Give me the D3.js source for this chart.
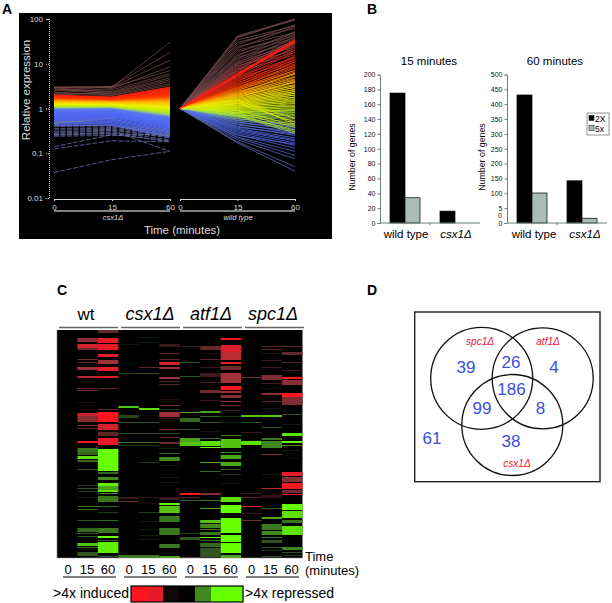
<!DOCTYPE html>
<html>
<head>
<meta charset="utf-8">
<script src="https://cdn.jsdelivr.net/npm/d3@7"></script>
<style>
  html, body { margin: 0; padding: 0; background: #fff; }
  svg { display: block; font-family: "Liberation Sans", Arial, sans-serif; }
</style>
</head>
<body>
<script>
"use strict";

// panel A: relative expression at 0, 15, 60 minutes
const lineTimes = ["0", "15", "60"];
const csxSparse = [[3,3,30],[2.95,3.1,18],[2.6,3,12],[2.2,2.8,8.5],[3,3,7],[2.5,2.6,6],[2,2.4,5.5],[2.9,2.3,4.8],
  [2.1,2.2,4.4],[2.8,2.1,4],[2.3,2,3.6],[2.05,1.95,3.3]];
const csxMixed = [[.73,.8,.9],[.7,.78,1],[.67,.76,.88],[.64,.74,1.2],[.61,.72,.95],[.58,.7,1.5],[.55,.7,.9],
  [.52,.68,1.1],[.49,.66,1.6],[.47,.64,.92],[.45,.6,1.05]];
const csxMain = [[1.95,1.78,3],[1.9,1.76,2.85],[1.92,1.74,2.7],[1.85,1.72,2.6],[1.88,1.7,2.5],[1.8,1.68,2.4],
  [1.82,1.66,2.3],[1.78,1.64,2.2],[1.75,1.62,2.15],[1.72,1.6,2.05],[1.7,1.58,2],[1.68,1.56,1.95],[1.65,1.54,1.88],
  [1.63,1.52,1.82],[1.6,1.5,1.76],[1.58,1.48,1.7],[1.55,1.46,1.65],[1.53,1.44,1.6],[1.5,1.42,1.55],[1.48,1.4,1.5],
  [1.45,1.38,1.45],[1.43,1.36,1.4],[1.4,1.34,1.35],[1.38,1.32,1.3],[1.35,1.3,1.26],[1.33,1.28,1.22],[1.3,1.26,1.18],
  [1.28,1.24,1.14],[1.26,1.22,1.1],[1.24,1.2,1.06],[1.22,1.18,1.03],[1.2,1.16,1],[1.18,1.14,.97],[1.16,1.12,.93],
  [1.14,1.1,.9],[1.12,1.08,.87],[1.1,1.07,.84],[1.08,1.06,.81],[1.06,1.05,.78],[1.04,1.04,.75],[1.02,1.03,.72],
  [1,1.02,.7],[.98,1,.67],[.96,.98,.65],[.94,.96,.62],[.92,.94,.6],[.9,.91,.58],[.88,.89,.56],[.86,.87,.54],
  [.84,.85,.52],[.82,.83,.5],[.8,.81,.48],[.78,.79,.46],[.76,.77,.44],[.74,.75,.43],[.72,.73,.41],[.7,.71,.39],
  [.68,.69,.37],[.66,.66,.36],[.64,.62,.34],[.6,.58,.32],[.57,.55,.3],[.54,.52,.28],[.5,.48,.26],[.46,.45,.24],[.42,.42,.23]];
const csxLow = [[.45,.4,.34],[.4,.38,.3],[.36,.36,.26],[.33,.34,.24],[.3,.33,.22],[.28,.32,.11],[.27,.27,.25],[.25,.3,.2],
  [.26,.28,.18],[.24,.25,.27],[.14,.26,.19],[.125,.19,.18],[.037,.072,.11]];
const wtLines = [[42,110],[40,95],[38,125],[34,70],[30,62],[27,75],[24,50],[22,68],[20,42],[18,48],[16,38],[15,52],[14,30],
  [13,45],[12,36],[11,28],[10.5,40],[10,24],[9.5,33],[9,20],[8.5,30],[8,26],[7.6,18],[7.2,35],[7,22],[6.6,16],[6.2,28],
  [5.3,24],[5.2,14],[5,20],[4.8,12],[4.6,18],[4.4,13.5],[4.2,11],[4,15],[3.8,10],
  [3.6,12.5],[3.4,9],[3.3,11],[3.1,8.5],[3,7],[2.9,9.5],[2.8,6.5],[2.7,8],[2.6,6],[2.5,7.2],[2.4,5.2],[2.35,4.6],[2.3,5.8],
  [2.2,4.2],[2.15,6.2],[2.1,3.8],[2.05,5],[2,3.4],[1.95,4.4],[1.9,3.2],[1.85,3.8],[1.8,2.9],[1.75,4],[1.7,2.6],[1.65,3.3],
  [1.6,2.4],[1.55,3],[1.5,2.2],[1.45,2.7],[1.42,2],[1.38,2.4],[1.34,1.8],[1.3,2.2],[1.27,1.65],[1.24,2],[1.2,1.5],[1.17,1.8],
  [1.14,1.35],[1.1,1.6],[1.08,1.2],[1.05,1.45],[1.02,1.1],[1,1.3],[.97,.98],[.95,1.15],[.92,.9],[.9,1.05],[.87,.82],[.84,.95],
  [.82,.74],[.8,.88],[.77,.68],[.75,.8],[.72,.6],[.7,.72],[.67,.55],[.65,.64],[.63,.5],[.6,.42],[.58,.46],[.55,.38],[.53,.42],
  [.5,.33],[.48,.36],[.45,.28],[.43,.31],[.4,.25],[.38,.27],[.36,.22],[.34,.2],[.32,.19],[.3,.17],[.28,.15],[.26,.13],[.25,.16],
  [.23,.11],[.22,.09],[.2,.075],[.18,.05],[.17,.04]];
const wtDipping = [[1.5,.6],[1.3,.5],[1.6,.44],[.9,.42],[.8,.38],[.7,.33],[.75,.3],[.68,.28]];
const wtStreak = [[6,34],[5.8,33],[5.6,32],[5.5,30]];
const logTicks = [0.01, 0.1, 1, 10, 100];

// panel B
const barCategories = ["wild type", "csx1\u0394"];
const barSeries = ["2X", "5x"];
const genes15 = [[175, 34], [16, 0]];
const genes60 = [[431, 101], [142, 16]];
const ticks15 = d3.range(0, 201, 20);
const ticks60 = d3.range(0, 501, 50);

// panel C: runs per column as [first row, last row, value], + induced, - repressed
const heatColumns = [
  [],
  [[8,12,.5],[14,18,.8],[18,20,.4],[29,30,.4],[32,33,.3],[37,40,.6],[46,48,.7],[58,59,.3],[60,61,.4],[72,73,.1],[83,86,.75],[86,92,.5],
   [95,96,.4],[98,99,.3],[111,113,1],[118,122,-.5],[122,125,-.4],[126,129,-.9],[130,132,-.4],[139,140,-.3],[155,156,-.2],[158,159,-.3],
   [161,162,-.2],[167,168,-.1],[176,177,-.5],[179,180,-.4],[190,191,-.3],[198,202,-.4],[203,204,-.3],[206,207,-.3],[213,216,-.8],
   [217,218,-.4],[222,226,-.3]],
  [[0,3,.35],[8,13,.9],[14,20,.9],[24,27,.9],[30,34,.6],[37,41,.9],[46,48,.9],[58,59,.3],[79,80,.3],[82,92,1],[94,100,.8],[102,106,.3],
   [108,111,.9],[111,115,.9],[119,141,-1],[142,144,-.4],[147,150,-.6],[153,156,-.95],[156,160,-.7],[160,162,-.9],[163,164,-.6],[166,172,-.5],
   [176,177,-.4],[182,183,-.2],[190,191,-.4],[198,203,-.5],[206,208,-1],[210,211,-.3],[212,223,-.95],[226,227,-.3]],
  [[14,15,-.1],[33,34,-.05],[43,44,-.25],[76,78,-.8],[85,88,-.25],[92,93,-.3],[103,104,-.3],[112,113,-.4],[115,116,-.2],[167,169,.2],
   [171,172,.35],[225,228,-.5]],
  [[7,8,-.1],[12,13,-.1],[37,38,.3],[43,44,-.3],[78,80,-.9],[85,86,-.05],[92,93,-.3],[103,104,-.3],[112,113,-.4],[115,116,-.2],[132,133,-.2],
   [167,168,.15],[173,174,.1],[182,183,-.2],[191,192,-.1],[199,200,-.1],[205,206,-.1],[209,210,-.1],[225,228,-.5]],
  [[14,17,.2],[23,24,.3],[29,30,.3],[32,35,.8],[37,39,.6],[47,49,.6],[51,52,.3],[54,55,.3],[69,70,.1],[75,76,.4],[79,80,-.2],[82,87,.6],
   [88,89,.2],[99,100,.5],[103,104,-.3],[107,108,.3],[112,114,.4],[118,119,-.1],[123,124,-.4],[127,131,-.6],[135,136,-.1],[147,148,-.1],
   [152,153,-.1],[167,170,.2],[173,175,-1],[176,183,-.8],[186,192,-.5],[198,205,-.5],[214,218,-.5],[226,228,-.7]],
  [[16,17,.2],[32,33,-.3],[46,47,-.3],[82,83,-.7],[88,92,-.4],[99,100,-.3],[108,112,-.7],[112,116,-.8],[163,165,1],[167,168,.3],[170,171,-.3],
   [203,204,-.2],[207,210,-.3],[227,228,.2]],
  [[16,20,.35],[23,24,.1],[29,30,.3],[37,38,.2],[43,47,.2],[52,53,.2],[60,63,.4],[70,71,.2],[81,83,-.7],[86,87,-.4],[92,93,-.3],[101,102,.1],
   [108,109,-.4],[111,116,-.9],[117,118,-1],[132,133,-.7],[141,142,-.4],[163,165,.5],[170,171,-.5],[178,179,-.7],[190,193,-.8],[194,198,-.6],
   [199,200,-.5],[202,205,-.5],[207,208,-1],[210,211,-.5],[213,217,-.4],[218,227,-.3]],
  [[8,10,1],[15,22,.85],[22,30,.7],[32,34,.9],[36,40,.4],[43,53,.6],[56,60,1],[61,63,.6],[65,68,.5],[71,72,.6],[75,76,.4],[80,81,.2],[86,87,-.2],
   [92,93,-.1],[105,106,-.5],[109,118,-.8],[122,123,-.6],[125,129,-.7],[132,136,-.7],[139,140,-.3],[144,145,-.2],[153,154,-.1],[167,172,-.9],
   [175,183,-1],[188,203,-1],[205,212,-1],[213,223,-1],[225,228,-.7]],
  [[47,48,.4],[85,87,-.8],[92,93,-.3],[102,103,.2],[110,111,-.1],[111,115,-.9],[163,164,.2],[167,168,.3],[176,177,.9],[183,184,.2],[190,191,.4]],
  [[16,17,.3],[19,20,.3],[23,24,-.1],[30,31,.2],[37,38,.2],[45,50,.45],[53,54,.2],[58,59,.1],[63,65,.5],[71,72,.3],[78,79,-.1],[85,87,-.8],
   [97,98,-.3],[108,110,-.5],[111,118,-.6],[124,125,.5],[144,145,-.1],[158,159,.7],[165,168,.15],[178,179,-.3],[187,189,-.7],[194,200,-.5],
   [201,205,-.6],[207,208,-.5],[210,213,-.3],[217,218,-.3],[220,221,-.2],[226,227,-.3]],
  [[16,17,.3],[22,25,.35],[32,33,.25],[40,41,.2],[47,49,1],[50,55,.5],[63,67,1],[67,75,.45],[84,85,-.3],[94,95,-.1],[103,106,-.9],[111,113,-1],
   [115,116,-.6],[120,121,.1],[128,129,.05],[142,146,.9],[147,152,.5],[153,159,.95],[160,163,.4],[164,165,1],[174,180,-1],[181,188,-.9],
   [190,193,-.5],[196,205,-.9],[217,220,-.6],[222,223,-.3],[225,226,-.2]]
];
const heatRows = 228;
const heatGroups = ["wt", "csx1\u0394", "atf1\u0394", "spc1\u0394"];
const heatTimes = ["0", "15", "60"];
const keyCells = [1, .9, .05, 0, -.6, -1, -1];

// panel D
const vennSets = ["spc1\u0394", "atf1\u0394", "csx1\u0394"];
const vennCounts = [39, 26, 4, 186, 99, 8, 38, 61];

const width = 612, height = 603;
const svg = d3.select("body").append("svg").attr("width", width).attr("height", height);

// ---- panel letters
[["A", 2, 13.5], ["B", 367, 13.5], ["C", 57, 294.5], ["D", 367, 295]].forEach(function(p) {
	svg.append("text").attr("x", p[1]).attr("y", p[2]).attr("font-weight", "bold").attr("font-size", 14).text(p[0]);
});

// ---- A
function drawLines() {
	let g = svg.append("g");
	g.append("rect").attr("x", 19).attr("y", 13).attr("width", 313).attr("height", 226).attr("fill", "#000");

	let y = d3.scaleLog().domain([0.01, 100]).range([198, 19]).clamp(true);
	let xCsx = d3.scalePoint().domain(lineTimes).range([54, 170]);
	let xWt = d3.scalePoint().domain(lineTimes).range([180, 295]);

	let csxTone = d3.scaleLog().clamp(true)
		.domain([.23, .4, .62, .72, .85, 1.05, 1.4, 1.9, 3, 4.5])
		.range(["#4a5fd8", "#4f68f0", "#5a78f0", "#a0d860", "#c4f000", "#f0f000", "#ffb000", "#ff3000", "#f02010", "#7a4a48"]);
	let wtTone = d3.scaleLog().clamp(true)
		.domain([.17, .3, .5, .65, .85, 1.05, 1.5, 2.2, 3.2, 4.5, 6.5, 12])
		.range(["#6068b0", "#4f68f0", "#5f80e0", "#90d070", "#b8e820", "#d8f000", "#f4e800", "#ffa000", "#ff3800", "#e82418", "#a83c3c", "#70484a"]);

	let path = function(x) {
		return d3.line().x(function(d, i) { return x(lineTimes[i]); }).y(function(d) { return y(d); });
	};
	let addLines = function(rows, x, color, sw, dash) {
		g.append("g").attr("fill", "none").attr("stroke-width", sw).attr("stroke-dasharray", dash || null)
			.selectAll("path").data(rows).join("path")
			.attr("d", path(x))
			.attr("stroke", color);
	};
	addLines(csxSparse, xCsx, "#7c4c4a", 0.7);
	addLines(csxMixed, xCsx, function(d) { return csxTone(d[2]); }, 1.3);
	addLines(csxMain, xCsx, function(d) { return csxTone(d[2]); }, 1.5);
	addLines(csxLow, xCsx, "#6a6fa8", 0.8, "5 1.5");
	let withStart = function(d) { return [1, d[0], d[1]]; };
	addLines(wtLines.map(withStart), xWt, function(d) { return wtTone(d[1]); }, 0.8);
	addLines(wtDipping.map(withStart), xWt, function(d) { return wtTone(d[2] * 2.6); }, 0.8);
	addLines(wtStreak.map(withStart), xWt, "#ff1c10", 1);

	// axes
	let axisColor = "#d8d8d8";
	let yAxis = g.append("g").attr("transform", "translate(49,0)")
		.call(d3.axisLeft(y).tickValues(logTicks).tickFormat(d3.format("~g")).tickSize(3));
	yAxis.selectAll("path,line").attr("stroke", axisColor).attr("stroke-dasharray", "1 1");
	yAxis.selectAll("text").attr("fill", axisColor).attr("font-size", 8).attr("font-family", "Liberation Sans");

	[xCsx, xWt].forEach(function(x) {
		let a = g.append("g").attr("transform", "translate(0,199)")
			.call(d3.axisBottom(x).tickSize(2).tickPadding(3));
		a.selectAll("path,line").attr("stroke", axisColor);
		a.selectAll("text").attr("fill", axisColor).attr("font-size", 8).attr("font-family", "Liberation Sans");
		g.append("line").attr("x1", x.range()[0]).attr("x2", x.range()[1]).attr("y1", 211).attr("y2", 211)
			.attr("stroke", "#fff").attr("stroke-width", 1.2);
	});
	let label = function(t, x, yy, size, extra) {
		let s = g.append("text").attr("x", x).attr("y", yy).attr("text-anchor", "middle")
			.attr("fill", "#dcdcdc").attr("font-size", size).text(t);
		if (extra) s.attr("transform", extra);
		return s;
	};
	label("csx1\u0394", 113, 219.5, 7.5).attr("font-style", "italic");
	label("wild type", 238, 219.5, 7.5).attr("font-style", "italic");
	label("Time (minutes)", 182, 234, 11.5);
	label("Relative expression", 0, 0, 11.5, "translate(30,90) rotate(-90)");
}
drawLines();

// ---- B
function drawBars(values, maxV, ticks, x0, title, titleX, yLabelX) {
	let y = d3.scaleLinear().domain([0, maxV]).range([223, 74.5]);
	let x = d3.scaleBand().domain(barCategories).range([x0, x0 + 100]);
	let xSeries = d3.scaleBand().domain(barSeries).range([0, 30]);
	let g = svg.append("g");

	values.forEach(function(row, i) {
		let cat = barCategories[i];
		let left = x(cat) + (x.bandwidth() - 30) / 2;
		g.append("g").selectAll("rect").data(row).join("rect")
			.filter(function(d) { return d > 0; })
			.attr("x", function(d) { return left + xSeries(barSeries[row.indexOf(d)]); })
			.attr("width", xSeries.bandwidth())
			.attr("y", function(d) { return y(d); })
			.attr("height", function(d) { return y(0) - y(d); })
			.attr("fill", function(d) { return row.indexOf(d) === 0 ? "#000" : "#a9bdb4"; })
			.attr("stroke", "#000").attr("stroke-width", 0.7);
	});

	let ya = g.append("g").attr("transform", "translate(" + x0 + ",0)")
		.call(d3.axisLeft(y).tickValues(ticks).tickSize(2.5).tickPadding(2)
			.tickFormat(function(d) { return maxV === 500 && d === 50 ? "5" : d; }));
	ya.selectAll("path,line").attr("stroke", "#6b8078");
	ya.selectAll("text").attr("font-size", 7).attr("font-family", "Liberation Sans").attr("fill", "#111");
	if (maxV === 500) {
		// the 50 label is broken over two lines in the source figure
		g.append("text").attr("x", x0 - 5).attr("y", y(25) + 2).attr("text-anchor", "end")
			.attr("font-size", 7).attr("fill", "#111").text("0");
	}
	g.append("line").attr("x1", x0).attr("x2", x0 + 100).attr("y1", y(0)).attr("y2", y(0)).attr("stroke", "#6b8078");
	g.append("line").attr("x1", x(barCategories[1])).attr("x2", x(barCategories[1]))
		.attr("y1", y(0)).attr("y2", y(0) + 2.5).attr("stroke", "#6b8078");

	g.append("text").attr("x", titleX).attr("y", 65).attr("text-anchor", "middle").attr("font-size", 11.5).text(title);
	g.append("text").attr("transform", "translate(" + yLabelX + ",157) rotate(-90)").attr("text-anchor", "middle")
		.attr("font-size", 8.8).text("Number of genes");
}
drawBars(genes15, 200, ticks15, 380, "15 minutes", 429, 355);
drawBars(genes60, 500, ticks60, 507, "60 minutes", 555, 485);

[["wild type", 406, false], ["csx1\u0394", 456, true], ["wild type", 534, false], ["csx1\u0394", 585, true]].forEach(function(p) {
	svg.append("text").attr("x", p[1]).attr("y", 238).attr("text-anchor", "middle").attr("font-size", 11.5)
		.attr("font-style", p[2] ? "italic" : "normal").text(p[0]);
});

// legend
let legend = svg.append("g");
legend.append("rect").attr("x", 587).attr("y", 113).attr("width", 22).attr("height", 22)
	.attr("fill", "#fff").attr("stroke", "#666").attr("stroke-width", 0.7);
barSeries.forEach(function(s, i) {
	legend.append("rect").attr("x", 589).attr("y", 115.5 + i * 10).attr("width", 5).attr("height", 5)
		.attr("fill", i === 0 ? "#000" : "#a9bdb4").attr("stroke", "#000").attr("stroke-width", 0.5);
	legend.append("text").attr("x", 595).attr("y", 122 + i * 10).attr("font-size", 8.5).text(s);
});

// ---- C
function drawHeat() {
	let g = svg.append("g");
	let x = d3.scaleBand().domain(d3.range(12)).range([57, 302.5]);
	let y = d3.scaleLinear().domain([0, heatRows]).range([330, 558]);
	let red = d3.scaleLinear().domain([0, .3, .6, 1]).range(["#000", "#5a262a", "#a0323a", "#ff1420"]);
	let green = d3.scaleLinear().domain([0, .3, .6, 1]).range(["#000", "#2f5520", "#3f8a1c", "#66ff00"]);
	let color = function(v) { return v >= 0 ? red(v) : green(-v); };

	g.append("rect").attr("x", x.range()[0]).attr("y", y(0)).attr("width", x.range()[1] - x.range()[0])
		.attr("height", y(heatRows) - y(0)).attr("fill", "#000");
	heatColumns.forEach(function(runs, c) {
		g.append("g").selectAll("rect").data(runs).join("rect")
			.attr("x", x(c)).attr("width", x.bandwidth())
			.attr("y", function(d) { return y(d[0]); })
			.attr("height", function(d) { return y(d[1]) - y(d[0]); })
			.attr("fill", function(d) { return color(d[2]); });
	});
	g.append("line").attr("x1", 57).attr("x2", 57).attr("y1", 330).attr("y2", 558).attr("stroke", "#888").attr("stroke-width", 0.6);
	g.append("line").attr("x1", 57).attr("x2", 302).attr("y1", 558).attr("y2", 558).attr("stroke", "#999").attr("stroke-width", 0.6);

	let groupX = [59, 121, 183, 245], labelX = [86, 150, 211, 273], underX = [63, 124, 185, 246], timeX = [68, 87, 108];
	heatGroups.forEach(function(name, i) {
		g.append("text").attr("x", labelX[i]).attr("y", 320).attr("text-anchor", "middle").attr("font-size", i ? 18 : 17)
			.attr("font-style", i ? "italic" : "normal").text(name);
		g.append("line").attr("x1", groupX[i]).attr("x2", groupX[i] + 59).attr("y1", 327.5).attr("y2", 327.5)
			.attr("stroke", "#666").attr("stroke-width", 1.4);
		heatTimes.forEach(function(t, j) {
			g.append("text").attr("x", timeX[j] + i * 61.2).attr("y", 574).attr("text-anchor", "middle").attr("font-size", 13).text(t);
		});
		g.append("line").attr("x1", underX[i]).attr("x2", underX[i] + 53).attr("y1", 577).attr("y2", 577)
			.attr("stroke", "#000").attr("stroke-width", 1);
	});
	g.append("text").attr("x", 305).attr("y", 561).attr("font-size", 13).text("Time");
	g.append("text").attr("x", 305).attr("y", 575).attr("font-size", 13).text("(minutes)");

	// colour key
	let k = d3.scaleBand().domain(d3.range(keyCells.length)).range([131, 243]);
	g.append("g").selectAll("rect").data(keyCells).join("rect")
		.attr("x", function(d, i) { return k(i); }).attr("width", k.bandwidth() + 0.5)
		.attr("y", 586).attr("height", 16).attr("fill", color);
	g.append("rect").attr("x", 131).attr("y", 586).attr("width", 112).attr("height", 16)
		.attr("fill", "none").attr("stroke", "#000").attr("stroke-width", 1.2);
	g.append("text").attr("x", 129).attr("y", 598).attr("text-anchor", "end").attr("font-size", 14).text(">4x induced");
	g.append("text").attr("x", 245).attr("y", 598).attr("font-size", 14).text(">4x repressed");
}
drawHeat();

// ---- D
function drawVenn() {
	let g = svg.append("g");
	g.append("rect").attr("x", 414.7).attr("y", 312).attr("width", 185.3).attr("height", 169.7)
		.attr("fill", "#fff").attr("stroke", "#222").attr("stroke-width", 1.4);
	let circles = [[481.7, 378.3, 51], [542.7, 378.3, 50.5], [512.3, 425, 50.5]];
	g.selectAll("circle").data(circles).join("circle")
		.attr("cx", function(d) { return d[0]; }).attr("cy", function(d) { return d[1]; }).attr("r", function(d) { return d[2]; })
		.attr("fill", "none").attr("stroke", "#111").attr("stroke-width", 1.3);
	let countPos = [[466, 373], [511, 368], [554, 373], [511.5, 395], [482, 414], [540.5, 414], [511, 447], [432, 444]];
	vennCounts.forEach(function(n, i) {
		g.append("text").attr("x", countPos[i][0]).attr("y", countPos[i][1]).attr("text-anchor", "middle")
			.attr("font-size", 17).attr("fill", "#3a4fe0").text(n);
	});
	let setPos = [[480, 345], [548, 345], [517, 467]];
	vennSets.forEach(function(s, i) {
		g.append("text").attr("x", setPos[i][0]).attr("y", setPos[i][1]).attr("text-anchor", "middle")
			.attr("font-size", 10).attr("font-style", "italic").attr("fill", "#f0143c").text(s);
	});
}
drawVenn();
</script>
</body>
</html>
